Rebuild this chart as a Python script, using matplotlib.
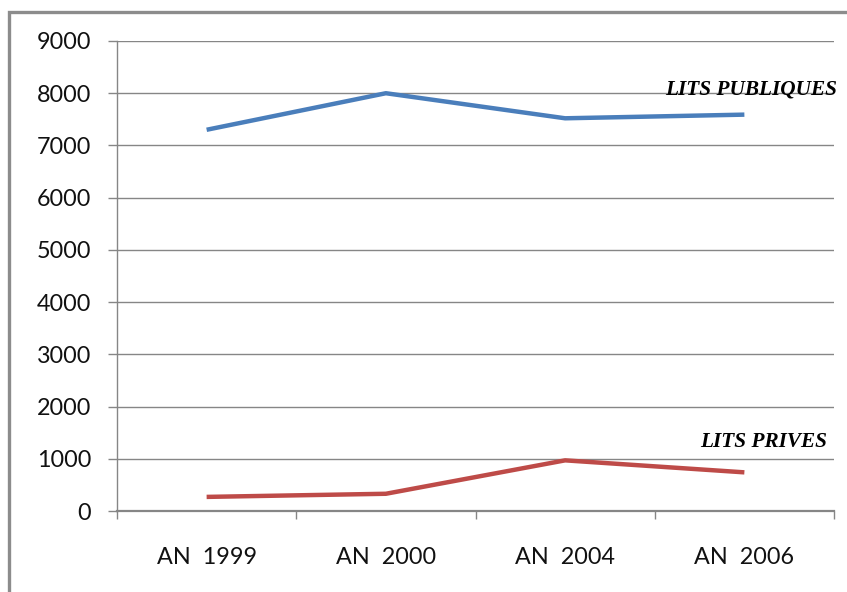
import numpy as np
import matplotlib.pyplot as plt
from matplotlib.patches import Rectangle

years = ['AN  1999', 'AN  2000', 'AN  2004', 'AN  2006']
lits_publiques = [7300, 8000, 7520, 7590]
lits_prives = [270, 330, 970, 740]

grid_col = '#868686'

fig = plt.figure(figsize=(8.47, 5.92), dpi=100)
ax = fig.add_axes([117/847, 1 - 511/592, (834 - 117)/847, (511 - 41)/592])

x = np.arange(len(years))
ax.plot(x, lits_publiques, color='#4A7EBB', lw=3.2, solid_capstyle='butt', zorder=3)
ax.plot(x, lits_prives, color='#BE4B48', lw=3.2, solid_capstyle='butt', zorder=3)

ax.set_xlim(-0.5, len(years) - 0.5)
ax.set_ylim(0, 9000)
ax.set_yticks(np.arange(0, 9001, 1000))
ax.yaxis.grid(True, color=grid_col, lw=1)
ax.set_axisbelow(True)

# category boundaries get the tick marks, centres get the labels
ax.set_xticks(np.arange(-0.5, len(years), 1.0))
ax.set_xticklabels([])
ax.set_xticks(x, minor=True)
ax.set_xticklabels(years, minor=True)
ax.tick_params(axis='x', which='major', length=6, width=1, color=grid_col)
ax.tick_params(axis='x', which='minor', length=0, pad=26)
ax.tick_params(axis='y', length=6.5, width=1, color=grid_col, pad=12)

for lbl in ax.get_xticklabels(minor=True) + ax.get_yticklabels():
    lbl.set_fontfamily('Lato')
    lbl.set_fontsize(16.8)
    lbl.set_color('#111111')

for s in ['top', 'right']:
    ax.spines[s].set_visible(False)
ax.spines['left'].set_color(grid_col)
ax.spines['left'].set_linewidth(1)
ax.spines['bottom'].set_color(grid_col)
ax.spines['bottom'].set_linewidth(1.6)

ax.text(837/847, 1 - 94/592, 'LITS PUBLIQUES', transform=fig.transFigure,
        ha='right', va='baseline', family='Liberation Serif', style='italic',
        weight='bold', fontsize=15.3)
ax.text(827/847, 1 - 447/592, 'LITS PRIVES', transform=fig.transFigure,
        ha='right', va='baseline', family='Liberation Serif', style='italic',
        weight='bold', fontsize=15.3)

# outer frame around the chart
fig.patches.append(Rectangle((9/847, -0.2), 1.2, 1 - 12/592 + 0.2,
                             transform=fig.transFigure, fill=False,
                             edgecolor='#8c8c8c', lw=2.4))

fig.savefig('out.png', dpi=100)
